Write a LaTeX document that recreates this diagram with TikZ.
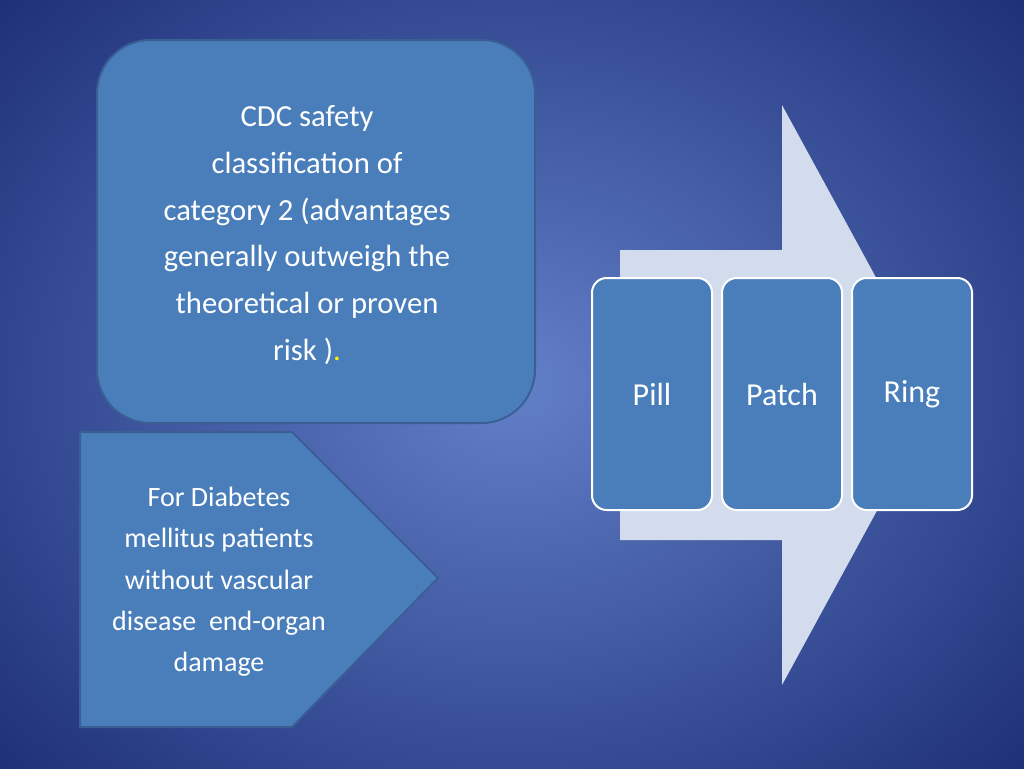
\documentclass[tikz,border=0pt]{standalone}
\usepackage{fontspec}
\setmainfont{Carlito}
\begin{document}
\begin{tikzpicture}[x=0.75pt,y=-0.75pt,
  blu/.style={fill=boxblue,draw=boxedge,line width=1.5pt},
  sm/.style={fill=boxblue,draw=white,line width=1.5pt,rounded corners=11pt,minimum width=90pt,minimum height=174pt,text=white,font=\fontsize{24}{28}\selectfont}]
\definecolor{boxblue}{HTML}{4A7EBB}
\definecolor{boxedge}{HTML}{3A5F94}
\definecolor{arr}{HTML}{D3DCEC}
\useasboundingbox (0,0) rectangle (1024,768);
\shade[inner color={rgb,255:red,98;green,128;blue,200},outer color={rgb,255:red,28;green,46;blue,118}] (-200,-200) rectangle (1224,968);
\fill[arr] (620,250) -- (782,250) -- (782,105) -- (940,395) -- (782,685) -- (782,540) -- (620,540) -- cycle;
\draw[blu,rounded corners=40pt] (97,40) rectangle (535,423);
\node[text=white,align=center,font=\fontsize{23}{35}\selectfont] (t1) at (307,235) {CDC safety\\classification of\\category 2 (advantages\\generally outweigh the\\theoretical or proven\\risk )\textcolor{yellow}{.}};
\draw[blu] (80,432) -- (292,432) -- (438,578) -- (292,727) -- (80,727) -- cycle;
\node[text=white,align=center,font=\fontsize{21}{31}\selectfont] (t2) at (219,582) {For Diabetes\\mellitus patients\\without vascular\\disease\ \ end-organ\\damage};
\node[sm] (pill) at (652,394) {Pill};
\node[sm] (patch) at (782,394) {Patch};
\node[sm] (ring) at (912,394) {Ring};
\end{tikzpicture}
\end{document}
